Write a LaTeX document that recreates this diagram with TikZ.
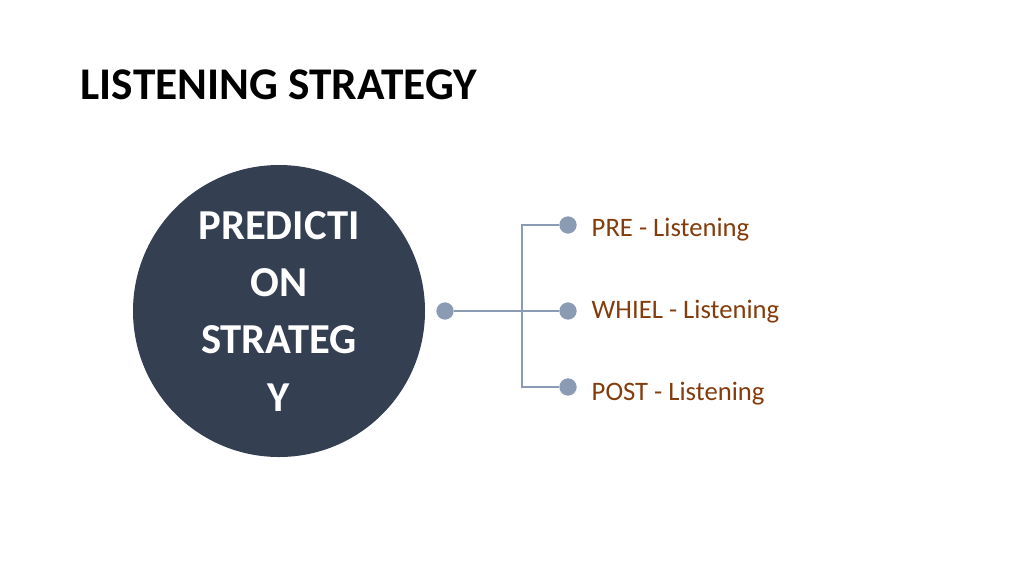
\documentclass[tikz,border=0pt]{standalone}
\usepackage{fontspec}
\setmainfont{Carlito}
\definecolor{circlefill}{RGB}{52,63,82}
\definecolor{linkgray}{RGB}{140,155,180}
\definecolor{labelbrown}{RGB}{132,60,12}
\tikzset{%
  % styles of the parts
       dotmark/.style = {circle, fill=linkgray, inner sep=0pt, minimum size=13pt},
          link/.style = {draw=linkgray, line width=1.2pt},
     steplabel/.style = {anchor=west, text=labelbrown, font=\fontsize{20}{24}\selectfont},
}
\begin{document}
\begin{tikzpicture}[x=0.75pt, y=-0.75pt]
  \useasboundingbox (0,0) rectangle (1024,576);
  % title and centre circle
  \node (title) [anchor=west, font=\bfseries\fontsize{34}{40}\selectfont] at (76,85) {LISTENING STRATEGY};
  \node (strategy) [circle, fill=circlefill, minimum size=219pt, text=white, align=center,
        font=\bfseries\fontsize{32}{43}\selectfont] at (279,311) {PREDICTI\\ON\\STRATEG\\Y};
  % dots and branches
  \node (root) [dotmark] at (445,311) {};
  \coordinate (fork) at (522,311);
  \node (preDot)  [dotmark] at (568,225) {};
  \node (whileDot) [dotmark] at (568,311) {};
  \node (postDot) [dotmark] at (568,387) {};
  \node (pre)  [steplabel] at (587,230) {PRE - Listening};
  \node (while) [steplabel] at (587,312) {WHIEL - Listening};
  \node (post) [steplabel] at (587,394) {POST - Listening};
  \draw[link] (root) -- (whileDot);
  \draw[link] (preDot) -| (fork) |- (postDot);
\end{tikzpicture}
\end{document}
